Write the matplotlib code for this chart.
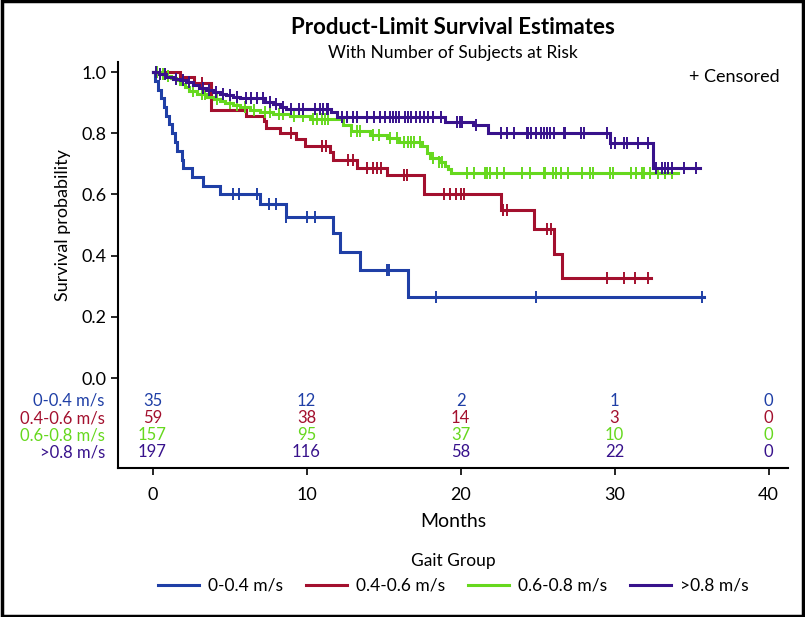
import numpy as np
import matplotlib
matplotlib.use('Agg')
import matplotlib.pyplot as plt
from matplotlib.patches import Rectangle

plt.rcParams['font.family'] = ['Lato', 'DejaVu Sans']

groups = ['0-0.4 m/s', '0.4-0.6 m/s', '0.6-0.8 m/s', '>0.8 m/s']
colors = ['#1F3FA6', '#A3102E', '#66D81E', '#38128C']

# step times / survival after each step, censor times, last follow-up
blue_t = [0.15, 0.35, 0.55, 0.75, 0.9, 1.1, 1.25, 1.45, 1.6, 1.9, 2.0, 2.55, 3.3, 4.4,
          7.0, 8.65, 11.7, 12.2, 13.5, 16.6]
blue_s = [0.971, 0.943, 0.914, 0.886, 0.857, 0.829, 0.800, 0.771, 0.743, 0.714, 0.686,
          0.657, 0.629, 0.600, 0.570, 0.528, 0.474, 0.413, 0.353, 0.265]
blue_c = [5.2, 5.6, 6.8, 7.55, 8.05, 8.7, 10.0, 10.55, 15.2, 15.35, 18.4, 24.9, 35.7]
blue_end = 35.8

red_t = [1.8, 2.7, 3.8, 6.1, 7.25, 7.4, 8.3, 9.3, 9.9, 11.5, 11.7, 13.3, 15.25, 17.6,
         22.6, 24.8, 26.1, 26.6]
red_s = [0.983, 0.966, 0.877, 0.858, 0.840, 0.818, 0.800, 0.782, 0.757, 0.740, 0.713,
         0.688, 0.663, 0.600, 0.549, 0.487, 0.405, 0.326]
red_c = [3.2, 9.0, 11.0, 11.25, 12.7, 13.0, 13.9, 14.3, 14.6, 14.85, 16.3, 16.5, 18.9,
         19.3, 19.7, 20.0, 20.2, 22.75, 23.0, 25.6, 25.9, 29.5, 30.6, 31.3, 32.2]
red_end = 32.4

green_t = [0.5, 0.9, 1.2, 1.5, 1.8, 2.1, 2.4, 2.9, 3.5, 4.0, 4.4, 4.7, 5.2, 5.7, 6.3,
           7.0, 7.8, 8.9, 10.2, 12.4, 12.9, 14.1, 15.2, 16.0, 17.5, 17.8, 18.0, 18.6,
           19.0, 19.2, 19.4]
green_s = [0.994, 0.987, 0.981, 0.974, 0.962, 0.950, 0.938, 0.928, 0.920, 0.913, 0.906,
           0.899, 0.892, 0.885, 0.877, 0.870, 0.864, 0.856, 0.846, 0.826, 0.806, 0.795,
           0.784, 0.772, 0.757, 0.735, 0.718, 0.705, 0.693, 0.684, 0.669]
green_c = [0.3, 0.7, 1.0, 2.6, 3.2, 3.4, 4.2, 5.0, 5.5, 6.0, 6.6, 7.3, 7.6, 8.2, 8.5,
           9.2, 9.8, 10.4, 10.7, 11.0, 11.2, 11.4, 12.9, 13.3, 13.5, 14.3, 14.7, 15.4,
           15.9, 16.3, 16.6, 16.8, 17.0, 17.4, 18.2, 18.6, 18.8, 20.4, 20.9, 21.6, 21.7,
           21.9, 22.4, 22.8, 24.0, 24.5, 25.4, 25.5, 26.0, 26.2, 26.5, 27.0, 27.9, 28.4,
           28.6, 29.7, 29.9, 31.1, 31.4, 31.8, 31.9, 32.3, 32.8, 33.3, 33.7]
green_end = 34.1

purple_t = [0.4, 0.9, 1.35, 1.8, 2.2, 2.65, 3.0, 3.5, 3.95, 4.4, 4.8, 5.25, 5.7, 7.3,
            7.85, 8.3, 8.7, 11.6, 12.0, 19.0, 20.8, 21.8, 29.7, 32.5]
purple_s = [0.995, 0.985, 0.979, 0.974, 0.969, 0.958, 0.947, 0.941, 0.936, 0.930, 0.925,
            0.920, 0.914, 0.903, 0.897, 0.887, 0.881, 0.870, 0.854, 0.838, 0.827, 0.800,
            0.767, 0.685]
purple_c = [0.2, 0.5, 0.8, 1.5, 2.0, 2.4, 3.3, 3.7, 4.1, 4.6, 5.0, 5.5, 6.1, 6.4, 6.8,
            7.2, 7.6, 8.0, 8.5, 9.0, 9.5, 9.8, 10.55, 10.9, 11.1, 11.3, 11.4, 12.3, 12.6,
            13.0, 13.3, 13.9, 14.4, 14.8, 15.1, 15.4, 15.6, 15.8, 16.0, 16.4, 16.6, 16.8,
            17.1, 17.4, 17.6, 17.9, 18.2, 18.7, 19.75, 19.97, 20.1, 21.0, 22.6, 23.0,
            23.5, 24.3, 24.4, 24.6, 24.9, 25.2, 25.4, 25.6, 25.8, 26.1, 26.7, 26.8, 27.8,
            28.0, 29.5, 29.8, 30.0, 30.6, 30.8, 31.5, 32.2, 32.7, 33.1, 33.3, 33.5, 33.7,
            34.5, 35.3]
purple_end = 35.55

risk_times = [0, 10, 20, 30, 40]
risk_blue = [35, 12, 2, 1, 0]
risk_red = [59, 38, 14, 3, 0]
risk_green = [157, 95, 37, 10, 0]
risk_purple = [197, 116, 58, 22, 0]

curves = [(blue_t, blue_s, blue_c, blue_end),
          (red_t, red_s, red_c, red_end),
          (green_t, green_s, green_c, green_end),
          (purple_t, purple_s, purple_c, purple_end)]
risk = [risk_blue, risk_red, risk_green, risk_purple]

fig = plt.figure(figsize=(8.05, 6.17), dpi=100)
ax = fig.add_axes([0.1466, 0.2415, 0.8324, 0.658])

for (t, s, c, end), col, name in zip(curves, colors, groups):
    tt = np.array([0] + t + [end])
    ss = np.array([1.0] + s + [s[-1]])
    ax.step(tt, ss, where='post', color=col, lw=2.2, label=name, solid_joinstyle='miter')
    c = np.array(c)
    idx = np.searchsorted(tt, c, side='right') - 1
    ax.plot(c, ss[idx], ls='none', marker='|', ms=8, mew=1.4, color=col)

ax.set_xlim(-2.24, 41.27)
ax.set_ylim(-0.294, 1.033)
ax.set_xticks(risk_times)
ax.set_yticks([0.0, 0.2, 0.4, 0.6, 0.8, 1.0])
ax.set_yticklabels(['0.0', '0.2', '0.4', '0.6', '0.8', '1.0'])
ax.tick_params(labelsize=13, length=5, width=1.2, direction='out')
ax.tick_params(axis='x', pad=9)
for side in ['top', 'right']:
    ax.spines[side].set_visible(False)
for side in ['left', 'bottom']:
    ax.spines[side].set_linewidth(1.5)

ax.set_xlabel('Months', fontsize=14, labelpad=7)
ax.set_ylabel('Survival probability', fontsize=13)
ax.yaxis.set_label_coords(-0.07, 0.598)

ax.text(40.7, 0.983, '+ Censored', ha='right', va='center', fontsize=13)

# at-risk table
row_y = [-0.075, -0.131, -0.187, -0.243]
for ry, name, col, vals in zip(row_y, groups, colors, risk):
    ax.text(-3.1, ry, name, ha='right', va='center', color=col, fontsize=12, clip_on=False)
    for xt, v in zip(risk_times, vals):
        ax.text(xt, ry, str(v), ha='center', va='center', color=col, fontsize=12)

fig.text(0.563, 0.955, 'Product-Limit Survival Estimates', ha='center', va='center',
         fontsize=16, fontweight='bold')
fig.text(0.563, 0.914, 'With Number of Subjects at Risk', ha='center', va='center',
         fontsize=12.5)

handles, labels = ax.get_legend_handles_labels()
leg = fig.legend(handles, labels, loc='lower center', bbox_to_anchor=(0.563, 0.012),
                 ncol=4, frameon=False, title='Gait Group', fontsize=12.5,
                 title_fontsize=12.5, handlelength=2.4, columnspacing=1.3,
                 handletextpad=0.5)

fig.patches.append(Rectangle((0.002, 0.002), 0.996, 0.996, transform=fig.transFigure,
                             fill=False, edgecolor='black', lw=2.5))

fig.savefig('out.png', dpi=100)
